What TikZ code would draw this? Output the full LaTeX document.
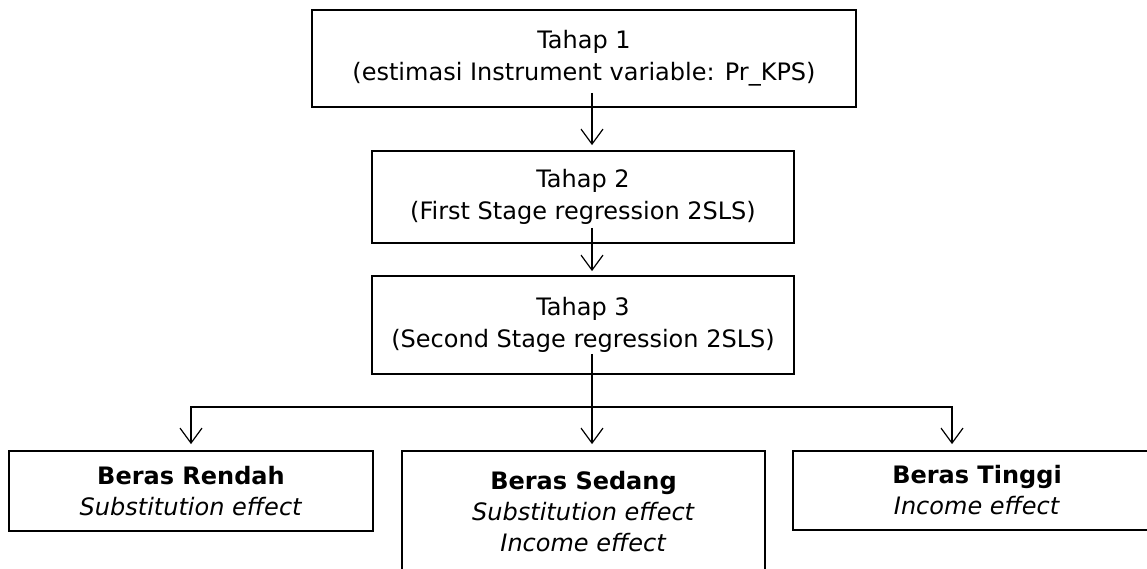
\documentclass[tikz,border=0pt]{standalone}
\usepackage{fontspec}
\setmainfont{DejaVu Sans}
\usepackage{tikz}
\usetikzlibrary{arrows.meta}
\usetikzlibrary{calc}

\begin{document}
\begin{tikzpicture}[x=1pt,y=-1pt,conn/.style={-{Straight Barb[length=15pt,width=22pt]},line width=1.2pt},stage node/.style={rectangle,draw,line width=1.8pt,align=center,inner sep=0pt,font=\fontsize{24}{32}\selectfont},result node/.style={rectangle,draw,line width=1.8pt,align=center,inner sep=0pt,minimum height=80pt,font=\fontsize{24}{31}\selectfont}]

				\useasboundingbox (0,0) rectangle (1147,569);

				\node[stage node,minimum width=544pt,minimum height=97pt] (tahap1) at (584,58.5) {Tahap 1\\(estimasi Instrument variable: Pr\_KPS)};
				\node[stage node,minimum width=422pt,minimum height=92pt] (tahap2) at (583,197) {Tahap 2\\(First Stage regression 2SLS)};
				\node[stage node,minimum width=422pt,minimum height=98pt] (tahap3) at (583,325) {Tahap 3\\(Second Stage regression 2SLS)};

				\node[result node,minimum width=364pt] (rendah) at (191,491) {\textbf{Beras Rendah}\\\textit{Substitution effect}};
				\node[result node,minimum width=363pt,minimum height=122pt] (sedang) at (583.5,512) {\textbf{Beras Sedang}\\\textit{Substitution effect}\\\textit{Income effect}};
				\node[result node,minimum width=368pt,minimum height=79pt] (tinggi) at (977,490.5) {\textbf{Beras Tinggi}\\\textit{Income effect}};

				\coordinate (split) at (592,407);

				\draw[conn] ([xshift=8pt,yshift=15pt]tahap1.south) -- ([xshift=9pt,yshift=5pt]tahap2.north);
				\draw[conn] ([xshift=9pt,yshift=16pt]tahap2.south) -- ([xshift=9pt,yshift=4pt]tahap3.north);
				\draw[conn] ([xshift=9pt,yshift=21pt]tahap3.south) -- ([xshift=8.5pt,yshift=6pt]sedang.north);
				\draw[conn] (split) -| ([yshift=6pt]rendah.north);
				\draw[conn] (split) -| ([xshift=-25pt,yshift=6pt]tinggi.north);

\end{tikzpicture}
\end{document}
